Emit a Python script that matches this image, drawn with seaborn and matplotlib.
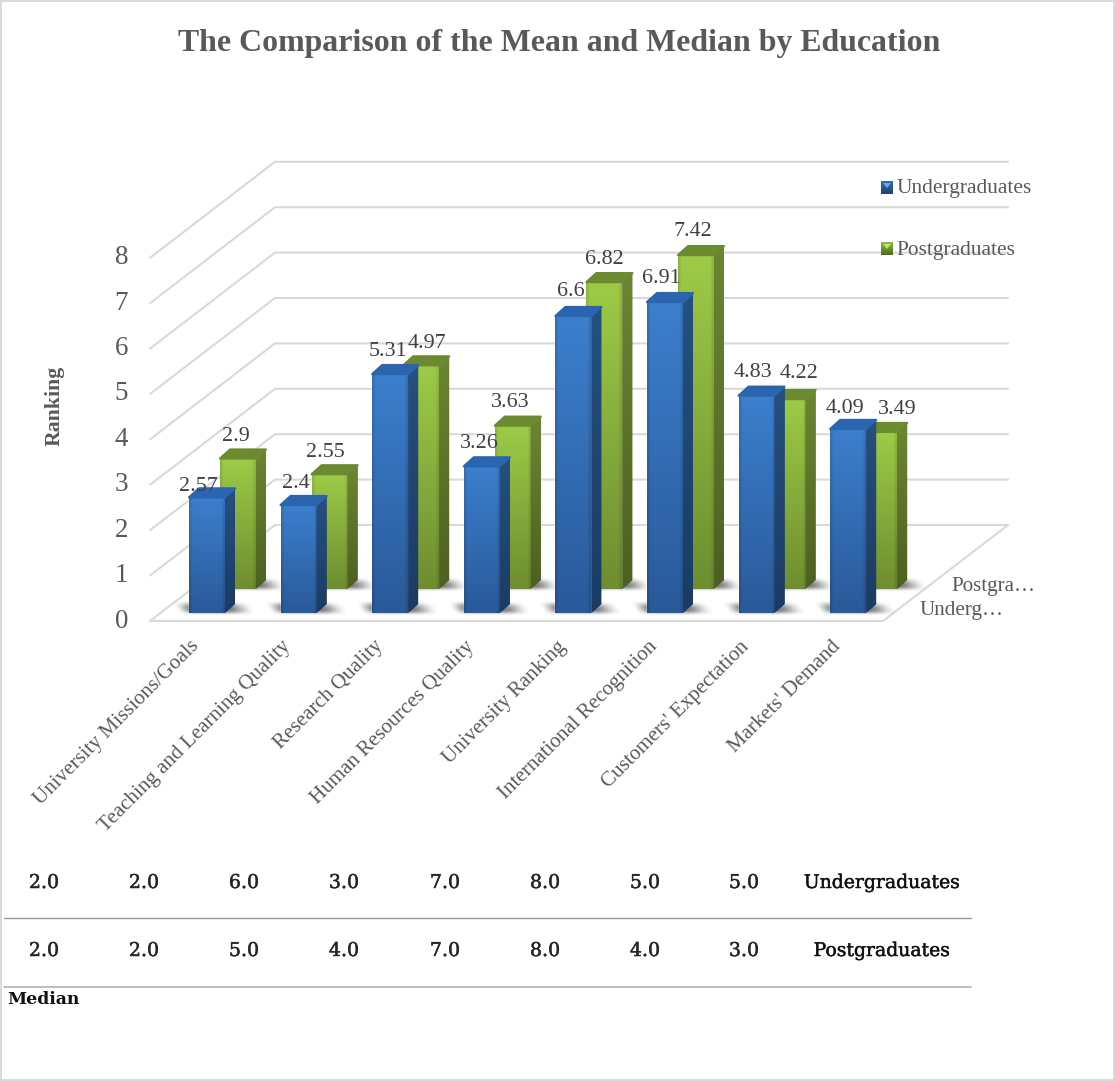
import numpy as np
import pandas as pd
import matplotlib
matplotlib.use("Agg")
import matplotlib.pyplot as plt
import matplotlib.patheffects as pe
from matplotlib.colors import to_rgb
from matplotlib.patches import Polygon, Rectangle
from matplotlib.transforms import ScaledTranslation
import seaborn as sns

# ---- values ----
categories = ["University Missions/Goals", "Teaching and Learning Quality", "Research Quality",
              "Human Resources Quality", "University Ranking", "International Recognition",
              "Customers' Expectation", "Markets' Demand"]
undergrad_mean = [2.57, 2.4, 5.31, 3.26, 6.6, 6.91, 4.83, 4.09]
postgrad_mean = [2.9, 2.55, 4.97, 3.63, 6.82, 7.42, 4.22, 3.49]
undergrad_median = ["2.0", "2.0", "6.0", "3.0", "7.0", "8.0", "5.0", "5.0"]
postgrad_median = ["2.0", "2.0", "5.0", "4.0", "7.0", "8.0", "4.0", "3.0"]
y_ticks = list(range(9))

# ---- label nudges in pixels, relative to the bar's top centre ----
undergrad_nudge = [(-9, 11), (-3, 22), (-2, 23), (-3, 23), (-3, 24), (-4, 24), (-4, 23), (-3, 20)]
postgrad_nudge = [(-2, 22), (-4, 22), (6, 22), (-3, 23), (0, 23), (-3, 24), (11, 26), (18, 22)]

W, H = 1115, 1081
SERIF = ["Liberation Serif", "DejaVu Serif"]
GREY = "#595959"
GRID = "#D9D9D9"
PT = 0.72  # points per pixel at 100 dpi

sns.set_theme(style="white")
plt.rcParams["font.family"] = SERIF

fig = plt.figure(figsize=(W / 100, H / 100), dpi=100, facecolor="white")


def axes_px(left, bottom, width, height, z):
    ax = fig.add_axes([left / W, 1 - bottom / H, width / W, height / H], zorder=z)
    ax.patch.set_alpha(0)
    sns.despine(ax=ax, left=True, bottom=True)
    ax.tick_params(length=0)
    return ax


# ---- walls and floor: x is pixels from the left edge, y is ranking ----
wall = axes_px(150, 621, 860, 8 * 45.4, 1)
wall.set_xlim(0, 860)
wall.set_ylim(0, 8)
depth = 96 / 45.4
for k in y_ticks:
    if k == 0:
        continue
    wall.plot([0, 125, 858], [k, k + depth, k + depth], color=GRID, lw=1.5, clip_on=False,
              solid_joinstyle="miter")
wall.plot([125, 0, 733, 858, 125], [depth, 0, 0, depth, depth], color=GRID, lw=1.5, clip_on=False)
wall.set_xticks([])
wall.set_yticks(y_ticks)
wall.set_yticklabels([str(k) for k in y_ticks], fontsize=27 * PT, color=GREY)
wall.tick_params(axis="y", pad=22 * PT)
raise_ticks = ScaledTranslation(0, 3 / 100, fig.dpi_scale_trans)
for tick in wall.get_yticklabels():
    tick.set_transform(tick.get_transform() + raise_ticks)


def ramp(top, bottom, n=64):
    a, b = np.array(to_rgb(top)), np.array(to_rgb(bottom))
    return a + (b - a) * np.linspace(0, 1, n)[:, None]


def soft(t):
    return np.clip(t, 0, 1) ** 2 * (3 - 2 * np.clip(t, 0, 1))


def draw_series(ax, values, nudges, face, side, cap, edge_shade):
    """Seaborn bars, then bevel shading, side and cap faces, and the value labels."""
    frame = pd.DataFrame({"category": categories, "mean": values})
    sns.barplot(data=frame, x="category", y="mean", color=face[0], saturation=1, width=36 / 91.6, ax=ax)
    ax.set_ylim(0, 8.5)
    ax.set_xlim(-0.5, 7.5)
    ax.set_autoscale_on(False)
    ax.set_xlabel("")
    ax.set_ylabel("")
    ax.set_yticks([])
    dx = 10 / 91.6
    dy = 9 / 45.0
    px_x = 1 / 91.6
    px_y = 1 / 45.0
    for bar, value, nudge in zip(ax.containers[0], values, nudges):
        x0, x1 = bar.get_x(), bar.get_x() + bar.get_width()
        h = bar.get_height()

        # soft contact shadow on the floor
        nx, ny = 80, 30
        u, v = np.meshgrid(np.linspace(0, 1, nx), np.linspace(0, 1, ny))
        u2 = u - 0.12 * (v - 0.5)
        alpha = soft(u2 / 0.24) * soft((1 - u2) / 0.36) * soft(v / 0.5) * soft((1 - v) / 0.4) * 0.72
        shadow = np.dstack([np.full_like(u, 0.27), np.full_like(u, 0.27), np.full_like(u, 0.27), alpha])
        ax.imshow(shadow, extent=(x0 - 15 * px_x, x1 + 30 * px_x, -3 * px_y, 13 * px_y), aspect="auto",
                  zorder=0.5, clip_on=False, interpolation="bilinear")

        # front face: vertical ramp with darker vertical edges
        across = np.linspace(0, 1, 36)
        shade = edge_shade + (1 - edge_shade) * soft(across / 0.1) * soft((1 - across) / 0.1)
        front = ramp(*face)[:, None, :] * shade[None, :, None]
        ax.imshow(front, extent=(x0, x1, 0, h), aspect="auto", zorder=3, interpolation="bilinear")

        # side face
        side_poly = Polygon([(x1, 0), (x1 + dx, dy), (x1 + dx, h + dy), (x1, h)], closed=True,
                            facecolor=side[1], edgecolor="none", zorder=3)
        ax.add_patch(side_poly)
        side_img = ax.imshow(ramp(*side)[:, None, :], extent=(x1, x1 + dx, 0, h + dy), aspect="auto",
                             zorder=3.1, interpolation="bilinear")
        side_img.set_clip_path(side_poly)

        # top cap with softened corners
        ax.add_patch(Polygon([(x0, h), (x0 + dx, h + dy), (x1 + dx, h + dy), (x1, h)], closed=True,
                             facecolor=cap, edgecolor=cap, lw=1.6, joinstyle="round", zorder=3.2))

        ax.annotate(str(value), xy=(bar.get_x() + bar.get_width() / 2, h), xytext=nudge,
                    textcoords="offset pixels", ha="center", va="center", fontsize=22 * PT,
                    color="#404040", zorder=6, annotation_clip=False)


# ---- back row, then front row ----
back = axes_px(192.2, 589, 732.8, 382.5, 2)
draw_series(back, postgrad_mean, postgrad_nudge,
            face=("#9DCB47", "#6E8E30"), side=("#6B8632", "#4C6021"), cap="#6C8A30", edge_shade=0.9)
back.set_xticks([])

front = axes_px(161.2, 613, 732.8, 382.5, 3)
draw_series(front, undergrad_mean, undergrad_nudge,
            face=("#3C7FCD", "#295A9A"), side=("#26507F", "#1B3B63"), cap="#2B65B0", edge_shade=0.88)
front.set_xticks(range(len(categories)))
front.set_xticklabels(categories, rotation=45, ha="right", rotation_mode="anchor",
                      fontsize=21 * PT, color=GREY)
front.tick_params(axis="x", pad=24 * PT)
shift_left = ScaledTranslation(-17 / 100, 0, fig.dpi_scale_trans)
for tick in front.get_xticklabels():
    tick.set_transform(tick.get_transform() + shift_left)

# ---- overlay in pixel coordinates for text, legend and median table ----
canvas = fig.add_axes([0, 0, 1, 1], zorder=5)
canvas.patch.set_alpha(0)
canvas.set_axis_off()
canvas.set_xlim(0, W)
canvas.set_ylim(H, 0)
canvas.set_autoscale_on(False)

canvas.text(559, 43.5, "The Comparison of the Mean and Median by Education", ha="center", va="center",
            fontsize=31.9 * PT, fontweight="bold", color=GREY)
canvas.text(55, 406, "Ranking", rotation=90, ha="center", va="center", fontsize=21.8 * PT,
            fontweight="bold", color=GREY)

# legend swatches with a small bevel highlight
swatches = [("Undergraduates", 182, ("#2F6DB5", "#1F4472"), "#6CA6E6", 189),
            ("Postgraduates", 243, ("#8FBB3F", "#4F6A22"), "#C3E36F", 251)]
for label, top, colours, shine, mid in swatches:
    canvas.imshow(ramp(*colours)[:, None, :], extent=(881, 893, top + 12.5, top), aspect="auto",
                  interpolation="bilinear", zorder=2)
    canvas.add_patch(Polygon([(883, top + 1), (891, top + 1), (887, top + 6)], closed=True,
                             facecolor=shine, edgecolor="none", zorder=3))
    canvas.text(896.5, mid, label, ha="left", va="center", fontsize=21.4 * PT, color=GREY)
canvas.set_xlim(0, W)
canvas.set_ylim(H, 0)

# series names along the depth axis
canvas.text(951, 586, "Postgra…", ha="left", va="center", fontsize=21 * PT, color=GREY)
canvas.text(920, 611, "Underg…", ha="left", va="center", fontsize=21 * PT, color=GREY)

# median table, lightly emboldened
heavy = [pe.withStroke(linewidth=0.35, foreground="#262626")]
table_x = [44, 144, 244, 344, 445, 545, 645, 744]
for x, upper, lower in zip(table_x, undergrad_median, postgrad_median):
    for y, text in ((883, upper), (951, lower)):
        canvas.text(x, y, text, ha="center", va="center", fontsize=19 * PT, family="DejaVu Serif",
                    color="#262626", path_effects=heavy)
for y, text in ((883, "Undergraduates"), (951, "Postgraduates")):
    canvas.text(881, y, text, ha="center", va="center", fontsize=18.8 * PT, family="DejaVu Serif",
                color="#111111", path_effects=heavy)
canvas.text(7, 999, "Median", ha="left", va="center", fontsize=17.2 * PT, family="DejaVu Serif",
            fontweight="bold", color="#111111")
canvas.plot([4, 971], [918, 918], color="#999999", lw=1.0)
canvas.plot([4, 971], [987, 987], color="#B0B0B0", lw=1.2)

# chart frame
canvas.add_patch(Rectangle((1, 1), W - 2.5, H - 2.5, facecolor="none", edgecolor=GRID, lw=1.4))

fig.savefig("out.png", dpi=100)
